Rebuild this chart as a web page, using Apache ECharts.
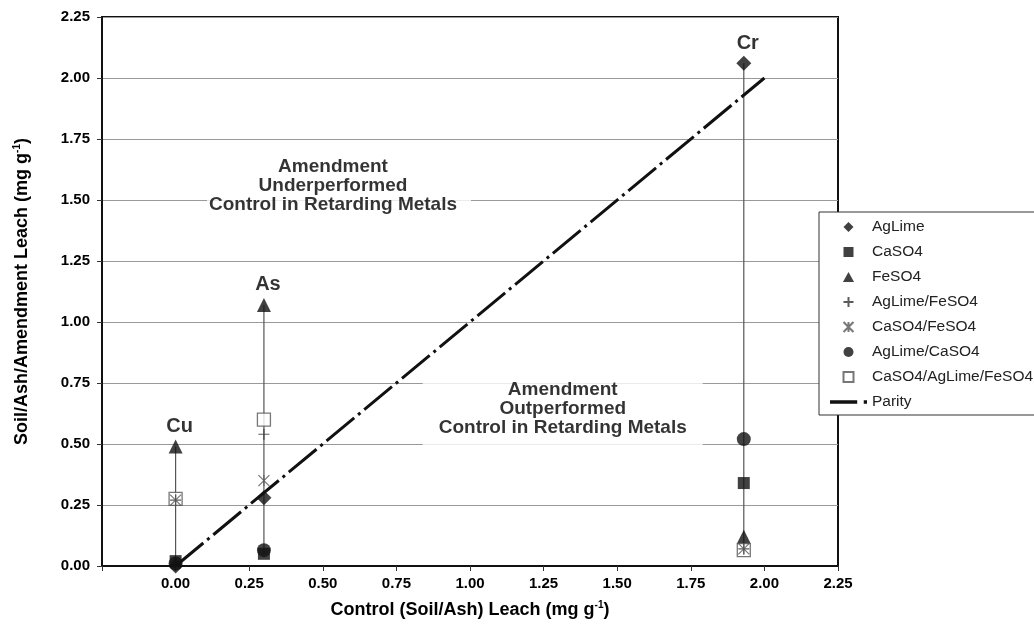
<!DOCTYPE html>
<html>
<head>
<meta charset="utf-8">
<script src="https://cdn.jsdelivr.net/npm/echarts@6/dist/echarts.min.js"></script>
<style>
html,body{margin:0;padding:0;background:#fff;}
#chart{width:1034px;height:632px;}
</style>
</head>
<body>
<div id="chart"></div>
<script>
// ---- data ----
const metals = ['Cu', 'As', 'Cr'];
const controlLeach = [0.00, 0.30, 1.93];
const agLime = [0.00, 0.28, 2.06];
const caSO4 = [0.02, 0.05, 0.34];
const feSO4 = [0.49, 1.07, 0.12];
const agLimeFeSO4 = [0.27, 0.54, 0.07];
const caSO4FeSO4 = [0.27, 0.35, 0.07];
const agLimeCaSO4 = [0.01, 0.065, 0.52];
const caSO4AgLimeFeSO4 = [0.275, 0.60, 0.065];
const parityX = [0, 2];
const parityY = [0, 2];
const xTicks = ['0.00','0.25','0.50','0.75','1.00','1.25','1.50','1.75','2.00','2.25'];
const yTicks = ['0.00','0.25','0.50','0.75','1.00','1.25','1.50','1.75','2.00','2.25'];

const FONT = '"Liberation Sans", Arial, sans-serif';
const chart = echarts.init(document.getElementById('chart'));

const pts = arr => controlLeach.map((x, i) => [x, arr[i]]);
const allSeries = [agLime, caSO4, feSO4, agLimeFeSO4, caSO4FeSO4, agLimeCaSO4, caSO4AgLimeFeSO4];

const SYM = {
  diamond: 'path://M5,0L10,5L5,10L0,5Z',
  square: 'path://M0,0H10V10H0Z',
  triangle: 'path://M5,0L10,9H0Z',
  plus: 'path://M0,5L10,5M5,0L5,10',
  star: 'path://M0,0L10,10M10,0L0,10M5,0L5,10'
};

const rangeSeries = metals.map((m, i) => {
  const vals = allSeries.map(a => a[i]);
  return {
    type: 'line', name: 'range-' + m, silent: true, symbol: 'none', z: 1,
    lineStyle: { color: '#555', width: 1.2 },
    data: [[controlLeach[i], Math.min(...vals)], [controlLeach[i], Math.max(...vals)]]
  };
});

const markerSeries = [
  { name: 'AgLime', data: pts(agLime), symbol: SYM.diamond, symbolSize: 15, itemStyle: { color: '#111' }, z: 3 },
  { name: 'CaSO4', data: pts(caSO4), symbol: SYM.square, symbolSize: 12, itemStyle: { color: '#111' }, z: 3 },
  { name: 'FeSO4', data: pts(feSO4), symbol: SYM.triangle, symbolSize: 14, itemStyle: { color: '#111' }, z: 3 },
  { name: 'AgLime/FeSO4', data: pts(agLimeFeSO4), symbol: SYM.plus, symbolSize: 11,
    itemStyle: { color: 'rgba(0,0,0,0)', borderColor: '#333', borderWidth: 1.2 }, z: 5 },
  { name: 'CaSO4/FeSO4', data: pts(caSO4FeSO4), symbol: SYM.star, symbolSize: 11,
    itemStyle: { color: 'rgba(0,0,0,0)', borderColor: '#555', borderWidth: 1.2 }, z: 5 },
  { name: 'AgLime/CaSO4', data: pts(agLimeCaSO4), symbol: 'circle', symbolSize: 14, itemStyle: { color: '#111' }, z: 3 },
  { name: 'CaSO4/AgLime/FeSO4', data: pts(caSO4AgLimeFeSO4), symbol: SYM.square, symbolSize: 13,
    itemStyle: { color: '#fff', borderColor: '#555', borderWidth: 1.3 }, z: 4 }
].map(s => Object.assign({ type: 'scatter' }, s));

const paritySeries = {
  type: 'line', name: 'Parity', symbol: 'none', z: 2,
  itemStyle: { color: '#111' },
  lineStyle: { color: '#111', width: 3, type: [36, 5, 3, 5] },
  data: parityX.map((x, i) => [x, parityY[i]])
};

const metalLabelSeries = {
  type: 'scatter', name: 'metal-labels', silent: true, symbolSize: 14, itemStyle: { color: 'rgba(0,0,0,0)' }, z: 6,
  data: metals.map((m, i) => ({ value: [controlLeach[i], Math.max(...allSeries.map(a => a[i]))], name: m })),
  label: { show: true, position: 'top', distance: 3, offset: [4, 0], formatter: p => p.name,
    fontFamily: FONT, fontWeight: 'bold', fontSize: 20, color: '#000' }
};

const annoStyle = { fontFamily: FONT, fontWeight: 'bold', fontSize: 19, lineHeight: 19, color: '#000', backgroundColor: '#fff' };
const annotationSeries = {
  type: 'scatter', name: 'annotations', silent: true, symbolSize: 0, z: 1,
  data: [
    { value: [0.555, 1.56], label: Object.assign({ formatter: 'Amendment\nUnderperformed\nControl in Retarding Metals', padding: [4, 14, 5, 2] }, annoStyle) },
    { value: [1.315, 0.645], label: Object.assign({ formatter: 'Amendment\nOutperformed\nControl in Retarding Metals', padding: [6, 16, 10, 16] }, annoStyle) }
  ],
  label: { show: true, position: 'inside', align: 'center', verticalAlign: 'middle', color: '#000' }
};

const nameRich = {
  b: { fontFamily: FONT, fontWeight: 'bold', fontSize: 18, color: '#000', lineHeight: 20 },
  s: { fontFamily: FONT, fontWeight: 'bold', fontSize: 10, color: '#000', lineHeight: 20, verticalAlign: 'top', padding: [0, 0, 6, 0] }
};

const option = {
  backgroundColor: '#fff',
  animation: false,
  grid: { left: 102, top: 17, width: 736, height: 549, show: true, borderColor: '#111', borderWidth: 2, containLabel: false },
  xAxis: {
    type: 'value', min: -0.25, max: 2.25, interval: 0.25,
    name: '{b|Control (Soil/Ash) Leach (mg g}{s|-1}{b|)}', nameLocation: 'middle', nameGap: 34,
    nameTextStyle: { rich: nameRich },
    axisLine: { onZero: false, lineStyle: { color: '#111', width: 2 } },
    axisTick: { show: true, inside: false, length: 5, lineStyle: { color: '#333' } },
    axisLabel: { margin: 10, fontFamily: FONT, fontWeight: 'bold', fontSize: 15, color: '#000',
      formatter: v => { const i = Math.round(v / 0.25); return i >= 0 ? xTicks[i] : ''; } },
    splitLine: { show: false }
  },
  yAxis: {
    type: 'value', min: 0, max: 2.25, interval: 0.25,
    name: '{b|Soil/Ash/Amendment Leach (mg g}{s|-1}{b|)}', nameLocation: 'middle', nameGap: 70, nameRotate: 90,
    nameTextStyle: { rich: nameRich },
    axisLine: { onZero: false, lineStyle: { color: '#111', width: 2 } },
    axisTick: { show: true, inside: false, length: 5, lineStyle: { color: '#333' } },
    axisLabel: { margin: 12, fontFamily: FONT, fontWeight: 'bold', fontSize: 15, color: '#000',
      formatter: v => yTicks[Math.round(v / 0.25)] },
    splitLine: { show: true, lineStyle: { color: '#999', width: 1.2 } }
  },
  legend: {
    orient: 'vertical', left: 819, top: 212,
    data: ['AgLime', 'CaSO4', 'FeSO4', 'AgLime/FeSO4', 'CaSO4/FeSO4', 'AgLime/CaSO4', 'CaSO4/AgLime/FeSO4',
      { name: 'Parity', icon: 'path://M0,0H25V3H0ZM31,0H34V3H31Z' }],
    itemWidth: 37, itemHeight: 10, itemGap: 9,
    symbolKeepAspect: true,
    padding: [7, 12, 5, 11],
    backgroundColor: '#fff', borderColor: '#333', borderWidth: 1, borderRadius: 0,
    textStyle: { fontFamily: FONT, fontSize: 15.5, lineHeight: 16, color: '#222' },
    selectedMode: false
  },
  series: [].concat(rangeSeries, [annotationSeries, paritySeries], markerSeries, [metalLabelSeries])
};
chart.setOption(option);
</script>
</body>
</html>
